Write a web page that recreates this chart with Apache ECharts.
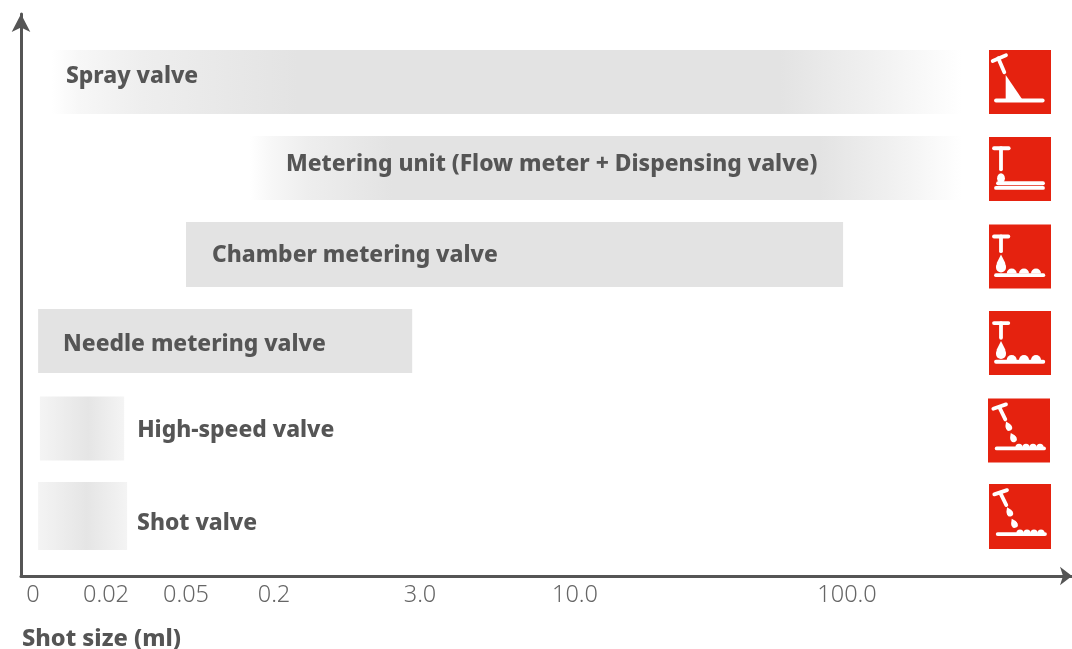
<!DOCTYPE html>
<html><head><meta charset="utf-8">
<style>html,body{margin:0;padding:0;background:#fff}#c{width:1072px;height:649px}</style>
<script src="https://cdn.jsdelivr.net/npm/echarts@6/dist/echarts.min.js"></script>
</head><body><div id="c"></div>
<script>
const valves = ['Spray valve','Metering unit (Flow meter + Dispensing valve)','Chamber metering valve','Needle metering valve','High-speed valve','Shot valve'];
const shotMin = [0.0052,0.159,0.05,0.0014,0.0019,0.0014];
const shotMax = [138,138,98.7,2.85,0.0268,0.0279];
const tickValues = [0,0.02,0.05,0.2,3,10,100];
const tickLabels = ['0','0.02','0.05','0.2','3.0','10.0','100.0'];
const iconKinds = ['spray','meter','drop','drop','jet','jet'];

// schematic, non-uniform axis: where each tick sits on the axis, in axis units
const tickStops = [12,85,165,253,399,554,826];
const rowStops = [0,0.99,1.987,2.984,3.99,5];
const barHeight = [64,64,65,64,64,68];
const labelGap = [15,37,27,26,14,11];
const labelDy = [-5,-3,1,3,2,7];
const labelAfterBar = [false,false,false,false,true,true];
const G='#e3e3e3', W='#ffffff', L='#f4f4f4';
const barStops = [
 [[0,W],[0.03,'#f7f7f7'],[0.1,'#eeeeee'],[0.27,G],[0.8,G],[0.9,'#f0f0f0'],[1,W]],
 [[0,W],[0.03,'#f7f7f7'],[0.08,'#eeeeee'],[0.2,G],[0.8,G],[0.9,'#f0f0f0'],[1,W]],
 [[0,G],[1,G]],
 [[0,G],[1,G]],
 [[0,L],[0.57,'#e5e5e5'],[1,L]],
 [[0,L],[0.55,'#e5e5e5'],[1,L]]
];
const ICON_X = 968, ICON_W=62;
const iconH=[64,64,64,64,64,65];
const iconDx=[0,0,0,0,-1,0];
const iconDy=[0,1,2,2,2,0];
const RED='#e5220f', TXT='#555555', FONT='"Noto Sans"';

function toAxis(ml){
  let i=tickValues.length-2;
  for(let k=0;k<tickValues.length-1;k++){ if(ml<=tickValues[k+1]){i=k;break;} }
  const t=(ml-tickValues[i])/(tickValues[i+1]-tickValues[i]);
  return tickStops[i]+t*(tickStops[i+1]-tickStops[i]);
}
const seg=(x1,y1,x2,y2,w=3.8)=>({type:'line',shape:{x1,y1,x2,y2},style:{stroke:W,lineWidth:w,lineCap:'round'}});
const mound=(cx,cy,r)=>({type:'sector',shape:{cx,cy,r,r0:0,startAngle:Math.PI,endAngle:2*Math.PI},style:{fill:W}});
function dropShape(cx,cy,r,len,rot){
  return {type:'group',x:cx,y:cy,rotation:rot,children:[
    {type:'circle',shape:{cx:0,cy:0,r},style:{fill:W}},
    {type:'polygon',shape:{points:[[-r,0],[-r*0.82,-r*0.95],[0,-len],[r*0.82,-r*0.95],[r,0]]},style:{fill:W}}
  ]};
}
function glyph(kind){
  if(kind==='spray') return [
    seg(3.7,11,17,5.3), seg(9.3,8.3,15.3,22.3),
    {type:'polygon',shape:{points:[[16.7,25],[16.7,49],[33,49]]},style:{fill:W}},
    seg(7,50.5,53.7,50.5)];
  if(kind==='meter') return [
    seg(5,11.3,19.7,11.3), seg(12,11.3,12,32.3),
    {type:'ellipse',shape:{cx:12,cy:41.3,rx:3.9,ry:4.9},style:{fill:W}},
    seg(9,46.3,54,46.3), seg(7,51,54,51)];
  if(kind==='drop') return [
    seg(5,12,19.3,12), seg(12,12,12,26.7),
    dropShape(12,43,5,13,0),
    mound(22.7,49,5),mound(35,49,5),mound(47,49,5),
    seg(7,50.7,54.3,50.7)];
  return [
    seg(5.3,10.3,18,6), seg(11.3,8.7,17.3,21),
    dropShape(21,29.3,3.1,6.8,0.45), dropShape(25.7,40.7,3.1,6.8,0.45),
    mound(31,49,3.6),mound(38,49,3.6),mound(45,49,3.6),mound(52,49,3.6),
    seg(8.7,50,56,50)];
}
const chart = echarts.init(document.getElementById('c'),null,{renderer:'canvas'});
const rows = valves.map((n,i)=>[toAxis(shotMin[i]),toAxis(shotMax[i]),rowStops[i],i]);
chart.setOption({
  animation:false,
  backgroundColor:'#fff',
  title:{text:'Shot size (ml)',left:22,top:627,padding:0,textStyle:{fontFamily:FONT,fontSize:23.6,fontWeight:800,color:TXT}},
  grid:{left:21,right:0,top:14,bottom:73,containLabel:false},
  xAxis:{type:'value',min:0,max:1051,splitLine:{show:false},
    axisLine:{onZero:false,symbol:['none','arrow'],symbolSize:[14,12],lineStyle:{color:TXT,width:3}},
    axisTick:{show:false},
    axisLabel:{customValues:tickStops,margin:7,fontFamily:FONT,fontSize:23.5,fontWeight:300,color:'#666',
      formatter:v=>tickLabels[tickStops.indexOf(v)]}},
  yAxis:{type:'value',inverse:true,min:-0.783,max:5.69,splitLine:{show:false},axisLabel:{show:false},axisTick:{show:false},
    axisLine:{show:true,onZero:false,symbol:['none','arrow'],symbolSize:[14,18],lineStyle:{color:TXT,width:3}}},
  series:[{
    type:'custom',clip:false,silent:true,
    encode:{x:[0,1],y:2},
    data:rows,
    renderItem(params,api){
      const i=api.value(3);
      const a=api.coord([api.value(0),api.value(2)]);
      const b=api.coord([api.value(1),api.value(2)]);
      const h=barHeight[i];
      const bx=labelAfterBar[i]?b[0]:a[0];
      const kids=[
        {type:'rect',shape:{x:a[0],y:a[1]-h/2,width:b[0]-a[0],height:h},
         style:{fill:{type:'linear',x:0,y:0,x2:1,y2:0,colorStops:barStops[i].map(s=>({offset:s[0],color:s[1]}))}}},
        {type:'text',x:bx+labelGap[i]-1,y:a[1]+labelDy[i],
         style:{text:valves[i],fill:TXT,font:'800 22.8px '+FONT,textAlign:'left',textVerticalAlign:'middle'}}
      ];
      const ic=api.coord([ICON_X+iconDx[i],rowStops[0]]);
      const icy=api.coord([0,api.value(2)])[1];
      kids.push({type:'group',x:ic[0],y:icy-32+iconDy[i],children:[
        {type:'rect',shape:{x:0,y:0,width:ICON_W,height:iconH[i]},style:{fill:RED}},
        ...glyph(iconKinds[i])]});
      return {type:'group',children:kids};
    }
  }]
});
</script></body></html>
